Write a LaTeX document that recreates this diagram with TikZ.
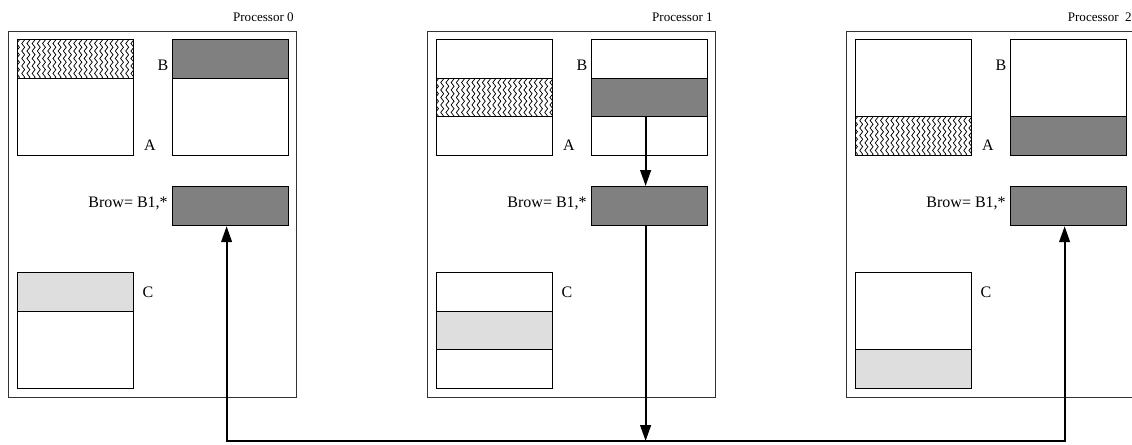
\documentclass[tikz,border=0pt]{standalone}
\usepackage{fontspec}
\setmainfont{Liberation Serif}
\usetikzlibrary{arrows.meta,decorations.pathmorphing,calc}
\definecolor{darkband}{HTML}{808080}
\definecolor{lightband}{HTML}{DEDEDE}
\begin{document}
\begin{tikzpicture}[x=0.75pt,y=-0.75pt,
  outerbox/.style={draw=black!80,line width=0.7pt},
  matbox/.style={draw,line width=0.9pt,minimum width=87pt,minimum height=87pt,inner sep=0pt,anchor=north west},
  rowbox/.style={draw,line width=0.9pt,minimum width=87pt,inner sep=0pt,anchor=north west},
  browbox/.style={draw,line width=0.9pt,minimum width=87pt,minimum height=29.25pt,inner sep=0pt,anchor=north west,fill=darkband},
  lbl/.style={font=\fontsize{12}{14}\selectfont,inner sep=0pt},
  plbl/.style={font=\fontsize{9.8}{12}\selectfont,inner sep=0pt,anchor=east},
  wave/.style={decorate,decoration={snake,amplitude=1.1pt,segment length=5.6pt},line width=0.55pt},
  conn/.style={line width=1.6pt,line join=miter}]
\clip (0,0) rectangle (1132,444);
\fill[white] (0,0) rectangle (1132,444);
\coordinate (bus) at (0,441);
\foreach \i/\xo/\pname/\bt/\bb in {0/8/{Processor 0}/0/39,1/427/{Processor 1}/39/77,2/846/{Processor\ \ 2}/77/116}{
  % outer processor frame and title
  \draw[outerbox] (\xo,31) rectangle (\xo+288,397);
  \node[plbl] (P\i) at (\xo+286,17) {\pname};
  % matrix A with hatched band
  \begin{scope}
    \clip (\xo+9,39+\bt) rectangle (\xo+125,39+\bb);
    \foreach \k in {0,...,22}{
      \draw[wave] (\xo+10+5.2*\k,30+\bt) -- ++(0,60);
    }
  \end{scope}
  \node[matbox] (A\i) at (\xo+9,39) {};
  \node[rowbox,minimum height={(\bb-\bt)*0.75pt}] (Ab\i) at (\xo+9,39+\bt) {};
  \node[lbl] (LA\i) at (\xo+142,145) {A};
  % matrix B with dark band
  \node[matbox] (B\i) at (\xo+164,39) {};
  \node[rowbox,minimum height={(\bb-\bt)*0.75pt},fill=darkband] (Bb\i) at (\xo+164,39+\bt) {};
  \node[lbl] (LB\i) at (\xo+155,65) {B};
  % Brow
  \node[browbox] (R\i) at (\xo+164,186) {};
  \node[lbl,anchor=east] (LR\i) at (\xo+160,203) {Brow= B1,*};
  % matrix C with light band
  \node[matbox] (C\i) at (\xo+9,272) {};
  \node[rowbox,minimum height={(\bb-\bt)*0.75pt},fill=lightband] (Cb\i) at (\xo+9,272+\bt) {};
  \node[lbl] (LC\i) at (\xo+140,292) {C};
  % connector attachment points
  \coordinate (r\i) at ($(R\i.south)+(-4,0)$);
  \coordinate (rt\i) at ($(R\i.north)+(-4,0)$);
  \coordinate (bb\i) at ($(Bb\i.south)+(-4,0)$);
}
\draw[conn,-{Triangle[length=12pt,width=8pt]}] (bb1) -- (rt1);
\draw[conn,-{Triangle[length=12pt,width=8pt]}] (r1) -- (r1 |- bus);
\draw[conn,{Triangle[length=12pt,width=8pt]}-{Triangle[length=12pt,width=8pt]}] (r0) -- (r0 |- bus) -- (r2 |- bus) -- (r2);
\end{tikzpicture}
\end{document}
